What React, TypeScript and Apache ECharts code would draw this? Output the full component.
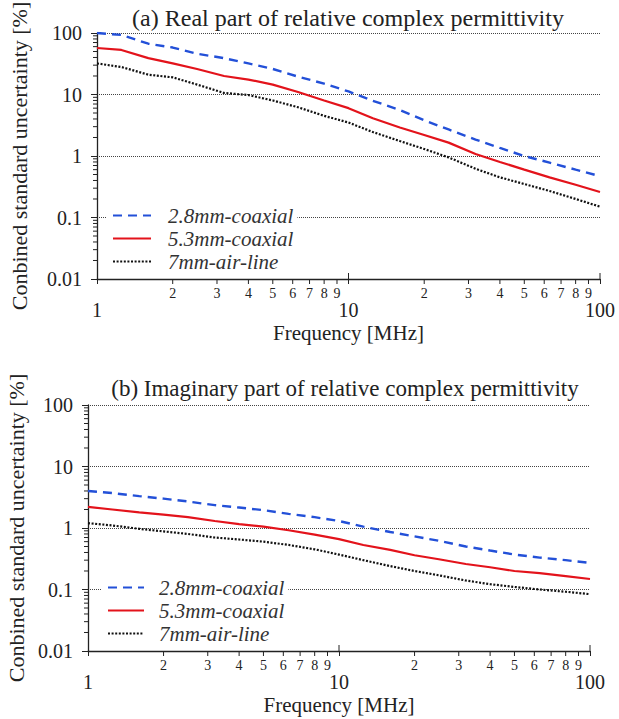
import React, { useEffect, useRef } from "react";
import * as echarts from "echarts";

const FREQ = [1, 1.25, 1.6, 2, 2.5, 3.2, 4, 5, 6.3, 8, 10, 12.5, 16, 20, 25, 32, 40, 50, 63, 80, 100];

const SERIES_NAMES = ["2.8mm-coaxial", "5.3mm-coaxial", "7mm-air-line"];

const REAL_28 = [100, 93, 67, 58, 46, 39, 32, 26, 19.5, 15, 11.2, 7.9, 5.6, 3.8, 2.7, 1.85, 1.35, 1.0, 0.78, 0.6, 0.47];
const REAL_53 = [57, 53, 39, 32, 26, 20, 17.5, 14.5, 11, 8.0, 6.0, 4.1, 2.9, 2.2, 1.65, 1.08, 0.8, 0.6, 0.45, 0.34, 0.26];
const REAL_7 = [32, 28, 21, 19, 14.5, 10.6, 9.8, 8.0, 6.2, 4.5, 3.5, 2.45, 1.75, 1.3, 0.95, 0.62, 0.45, 0.35, 0.27, 0.2, 0.15];

const IMAG_28 = [4.0, 3.7, 3.3, 3.0, 2.7, 2.35, 2.15, 1.95, 1.7, 1.5, 1.3, 1.05, 0.86, 0.73, 0.62, 0.5, 0.43, 0.37, 0.33, 0.3, 0.27];
const IMAG_53 = [2.2, 2.0, 1.8, 1.65, 1.5, 1.3, 1.16, 1.05, 0.92, 0.78, 0.66, 0.53, 0.44, 0.36, 0.31, 0.26, 0.23, 0.2, 0.185, 0.165, 0.148];
const IMAG_7 = [1.2, 1.1, 0.97, 0.88, 0.8, 0.7, 0.65, 0.6, 0.53, 0.45, 0.37, 0.3, 0.24, 0.2, 0.17, 0.14, 0.122, 0.11, 0.1, 0.092, 0.084];

const TITLES = ["(a) Real part of relative complex permittivity", "(b) Imaginary part of relative complex permittivity"];
const X_NAME = "Frequency [MHz]";
const Y_NAME = "Conbined standard uncertainty [%]";
const X_MINOR_DECADES = [1, 10];
const Y_MINOR_DECADES = [0.01, 0.1, 1, 10];
const MINOR_MULTS = [2, 3, 4, 5, 6, 7, 8, 9];

const FONT = "Liberation Serif";
const COLORS = ["#2350d8", "#e3131b", "#111111"];

export default function App() {
  const ref = useRef<HTMLDivElement>(null);
  useEffect(() => {
    if (!ref.current) return;
    const chart = echarts.init(ref.current, undefined, { renderer: "svg" });
    const grids = [
      { left: 97, top: 33, width: 503, height: 246, outerBoundsMode: "none", containLabel: false },
      { left: 88, top: 405, width: 502, height: 246, outerBoundsMode: "none", containLabel: false },
    ];
    const sets = [
      [REAL_28, REAL_53, REAL_7],
      [IMAG_28, IMAG_53, IMAG_7],
    ];
    const lineStyles = [
      { color: COLORS[0], width: 2.4, type: [9, 6] },
      { color: COLORS[1], width: 2.2, type: "solid" },
      { color: COLORS[2], width: 2.2, type: [2, 1.6] },
    ];
    const series: any[] = [];
    sets.forEach((set, g) => {
      set.forEach((vals, i) => {
        series.push({
          type: "line",
          name: SERIES_NAMES[i],
          xAxisIndex: g,
          yAxisIndex: g,
          data: FREQ.map((f, k) => [f, vals[k]]),
          showSymbol: false,
          symbol: "none",
          lineStyle: lineStyles[i],
          itemStyle: { color: COLORS[i] },
        });
      });
    });
    const axisText = { fontFamily: FONT, color: "#222" };
    const legendBase = (padLeft: number) => ({
      data: SERIES_NAMES, orient: "vertical", itemHeight: 14, itemGap: 2,
      backgroundColor: "#fff", padding: [1, 4, 1, 6],
      itemStyle: { opacity: 0 },
      formatter: "{t|{name}}",
      textStyle: {
        fontFamily: FONT, fontStyle: "italic", fontSize: 21, color: "#333",
        rich: { t: { fontFamily: FONT, fontStyle: "italic", fontSize: 21, color: "#333", padding: [0, 0, 0, padLeft] } },
      },
    });
    chart.setOption({
      animation: false,
      backgroundColor: "#fff",
      title: [
        { text: TITLES[0], left: 343, top: 1, textAlign: "center", textStyle: { ...axisText, fontSize: 24, fontWeight: "normal" } },
        { text: TITLES[1], left: 340, top: 372, textAlign: "center", textStyle: { ...axisText, fontSize: 23, fontWeight: "normal" } },
      ],
      grid: grids,
      legend: [
        { ...legendBase(12), left: 106, top: 204, itemWidth: 38 },
        { ...legendBase(10), left: 101, top: 576, itemWidth: 36 },
      ],
      xAxis: [0, 1].map((g) => ({
        type: "log", logBase: 10, min: 1, max: 100, gridIndex: g,
        name: X_NAME, nameLocation: "middle", nameGap: 43,
        nameTextStyle: { ...axisText, fontSize: 21 },
        axisLine: { lineStyle: { color: "#222", width: 1.3 } },
        axisTick: { show: true, length: 5, lineStyle: { color: "#222" } },
        axisLabel: { ...axisText, fontSize: 20, margin: 21 },
        splitLine: { show: false },
      })),
      yAxis: [0, 1].map((g) => ({
        type: "log", logBase: 10, min: 0.01, max: 100, gridIndex: g,
        name: Y_NAME, nameLocation: "middle", nameGap: [67, 59][g],
        nameTextStyle: { ...axisText, fontSize: 22 },
        axisLine: { show: true, lineStyle: { color: "#222", width: 1.3 } },
        axisTick: { show: true, length: 6, lineStyle: { color: "#222" } },
        axisLabel: { ...axisText, fontSize: 20, margin: 15, formatter: (v: number) => String(v) },
        splitLine: { show: true, lineStyle: { color: "#444", width: 1, type: [1, 1] } },
      })),
      series,
    });

    const graphic: any[] = [];
    [0, 1].forEach((g) => {
      const yAxisPx = chart.convertToPixel({ yAxisIndex: g } as any, 0.01) as number;
      const xAxisPx = chart.convertToPixel({ xAxisIndex: g } as any, 1) as number;
      X_MINOR_DECADES.forEach((d) => {
        MINOR_MULTS.forEach((m) => {
          const x = chart.convertToPixel({ xAxisIndex: g } as any, m * d) as number;
          graphic.push({ type: "line", shape: { x1: x, y1: yAxisPx, x2: x, y2: yAxisPx + 5 }, style: { stroke: "#222", lineWidth: 1 }, silent: true });
          graphic.push({ type: "text", x, y: yAxisPx + 14, style: { text: String(m), fontFamily: FONT, fontSize: 14, fill: "#222", align: "center", verticalAlign: "middle" }, silent: true });
        });
      });
      [10, 100].forEach((v) => {
        const x = chart.convertToPixel({ xAxisIndex: g } as any, v) as number;
        graphic.push({ type: "line", shape: { x1: x, y1: yAxisPx - 6, x2: x, y2: yAxisPx }, style: { stroke: "#222", lineWidth: 1 }, silent: true });
      });
      Y_MINOR_DECADES.forEach((d) => {
        MINOR_MULTS.forEach((m) => {
          const y = chart.convertToPixel({ yAxisIndex: g } as any, m * d) as number;
          graphic.push({ type: "line", shape: { x1: xAxisPx - 4, y1: y, x2: xAxisPx, y2: y }, style: { stroke: "#222", lineWidth: 1 }, silent: true });
        });
      });
    });
    chart.setOption({ graphic });
    return () => chart.dispose();
  }, []);
  return <div ref={ref} style={{ position: "fixed", left: 0, top: 0, width: 619, height: 719 }} />;
}
